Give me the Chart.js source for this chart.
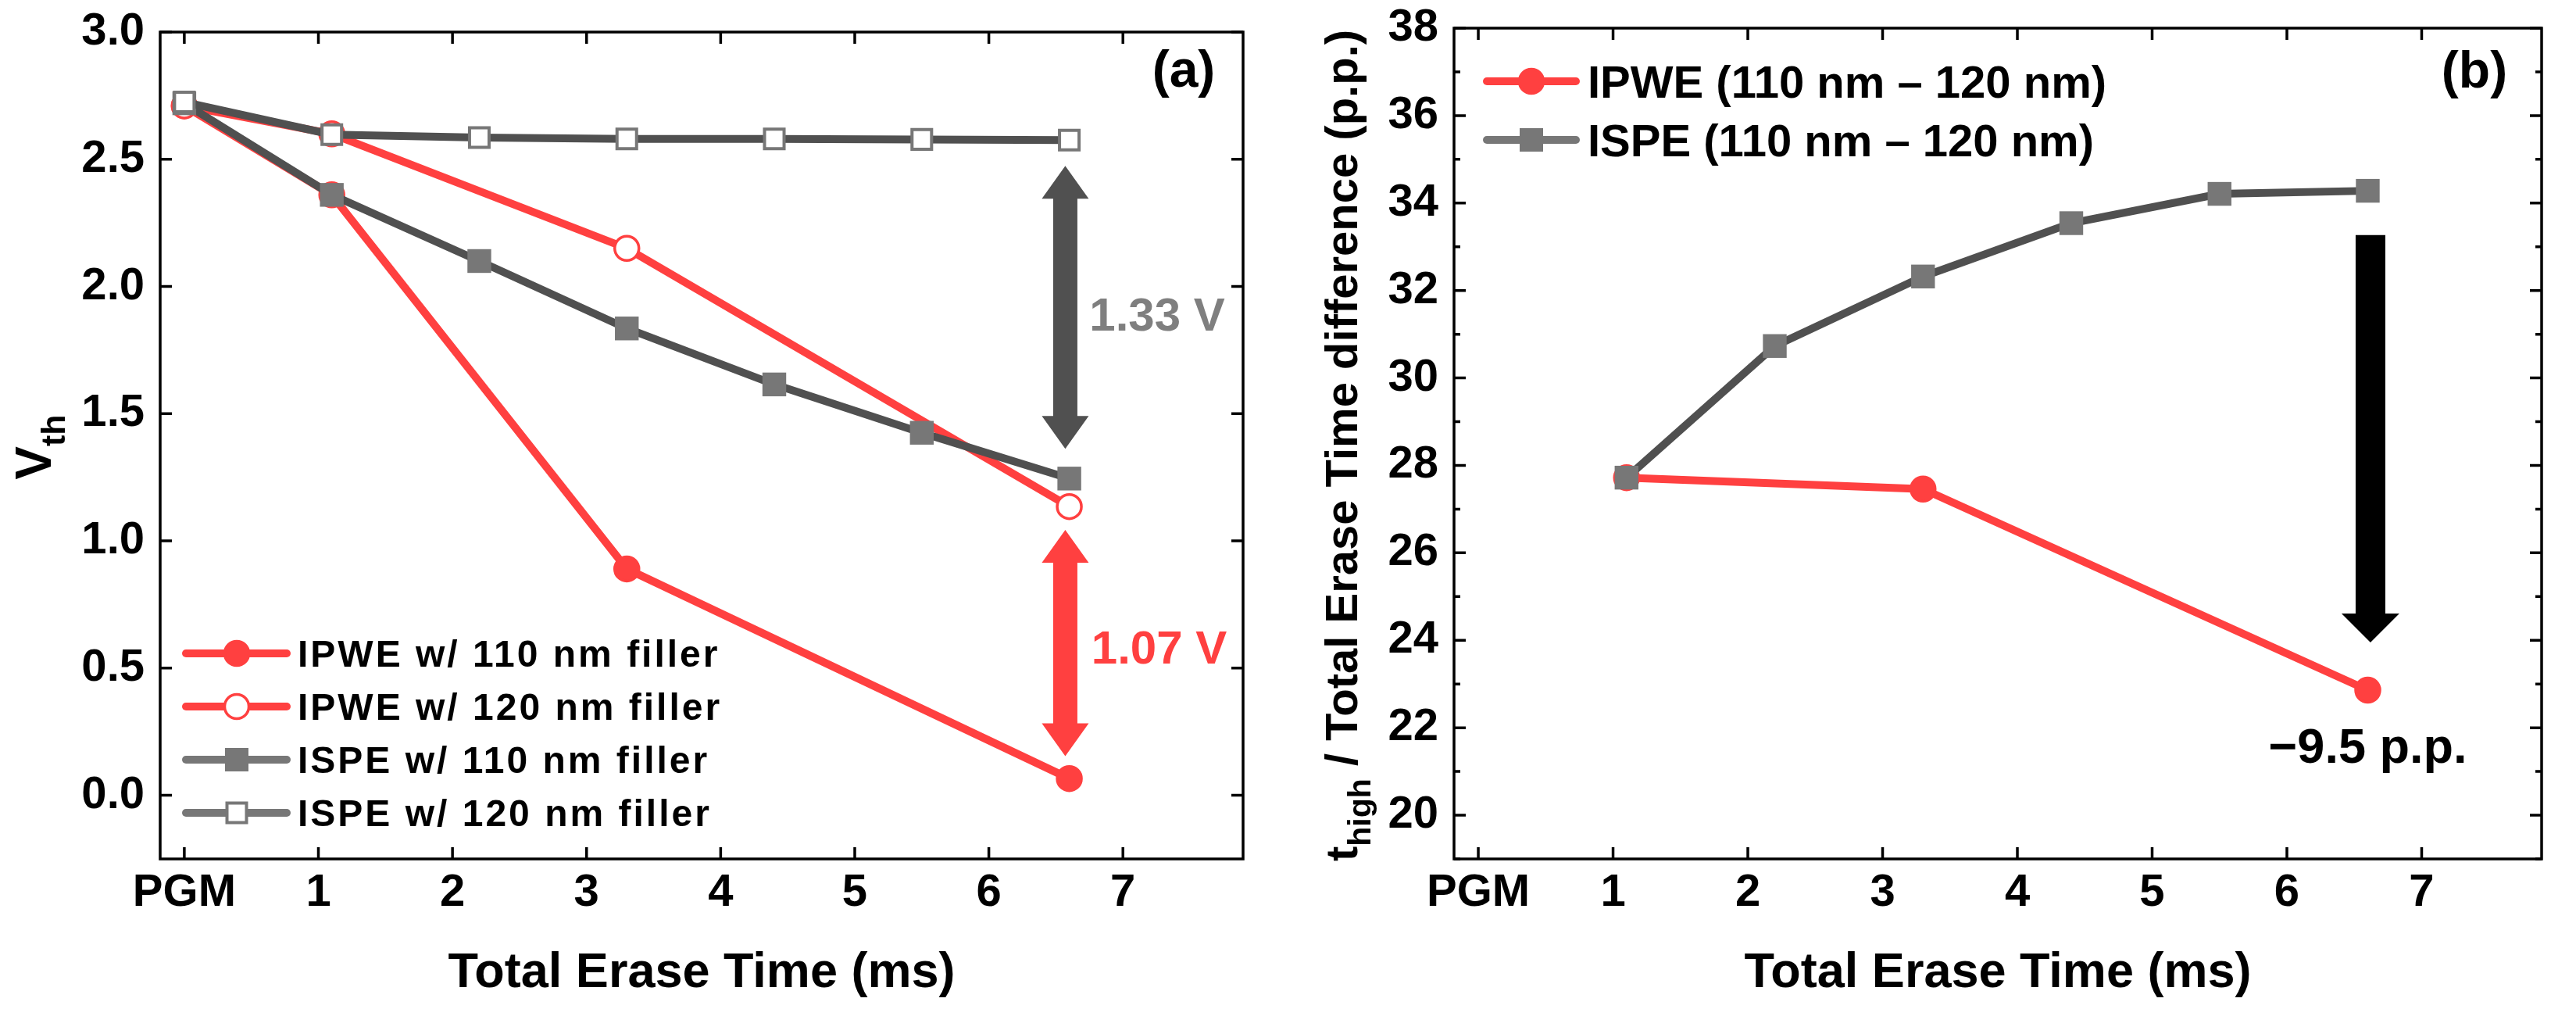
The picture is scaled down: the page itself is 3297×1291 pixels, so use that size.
<!DOCTYPE html>
<html><head><meta charset="utf-8">
<script src="https://cdn.jsdelivr.net/npm/chart.js@4/dist/chart.umd.min.js"></script>
<style>
html,body{margin:0;padding:0;background:#fff;width:3297px;height:1291px;overflow:hidden}
#wa{position:absolute;left:0;top:0;width:1650px;height:1291px}
#wb{position:absolute;left:1650px;top:0;width:1647px;height:1291px}
canvas{display:block}
</style></head><body>
<div id="wa"><canvas id="ca" width="1650" height="1291"></canvas></div>
<div id="wb"><canvas id="cb" width="1647" height="1291"></canvas></div>
<script>
// ---------- data ----------
const xTickValues = [0, 1, 2, 3, 4, 5, 6, 7];
const xTickLabels = ['PGM', '1', '2', '3', '4', '5', '6', '7'];
const yTicksA = [0, 0.5, 1.0, 1.5, 2.0, 2.5, 3.0];
const yTicksB = [20, 22, 24, 26, 28, 30, 32, 34, 36, 38];
const yMinorB = [19, 21, 23, 25, 27, 29, 31, 33, 35, 37];

const timeIPWE = [0, 1.1, 3.3, 6.6];
const timeISPE = [0, 1.1, 2.2, 3.3, 4.4, 5.5, 6.6];
const vthIPWE110 = [2.71, 2.36, 0.89, 0.066];
const vthIPWE120 = [2.71, 2.60, 2.15, 1.135];
const vthISPE110 = [2.72, 2.36, 2.10, 1.835, 1.615, 1.425, 1.245];
const vthISPE120 = [2.725, 2.597, 2.585, 2.58, 2.58, 2.578, 2.575];
const seriesNamesA = ['IPWE w/ 110 nm filler', 'IPWE w/ 120 nm filler', 'ISPE w/ 110 nm filler', 'ISPE w/ 120 nm filler'];

const timeIPWEb = [1.1, 3.3, 6.6];
const timeISPEb = [1.1, 2.2, 3.3, 4.4, 5.5, 6.6];
const diffIPWE = [27.72, 27.46, 22.86];
const diffISPE = [27.72, 30.73, 32.32, 33.54, 34.21, 34.28];
const seriesNamesB = ['IPWE (110 nm \u2013 120 nm)', 'ISPE (110 nm \u2013 120 nm)'];

// ---------- styles ----------
const RED = '#ff4040', DARK = '#505050', MID = '#777777', LGRAY = '#7f7f7f';
const FF = '"Liberation Sans", Arial, Helvetica, sans-serif';
const bold = s => 'bold ' + s + 'px ' + FF;
const pts = (xs, ys) => xs.map((x, i) => ({x: x, y: ys[i]}));

function drawMarker(ctx, type, x, y) {
  ctx.save();
  if (type === 'circleFilled' || type === 'circleOpen') {
    ctx.beginPath(); ctx.arc(x, y, 15.5, 0, Math.PI * 2);
    ctx.fillStyle = type === 'circleFilled' ? RED : '#fff'; ctx.fill();
    ctx.lineWidth = 3.5; ctx.strokeStyle = RED; ctx.stroke();
  } else if (type === 'squareFilled') {
    ctx.fillStyle = MID; ctx.fillRect(x - 15, y - 15, 30, 30);
  } else {
    ctx.fillStyle = '#fff'; ctx.fillRect(x - 12.5, y - 12.5, 25, 25);
    ctx.lineWidth = 4; ctx.strokeStyle = MID; ctx.strokeRect(x - 12.5, y - 12.5, 25, 25);
  }
  ctx.restore();
}

function drawFrame(chart, yMajor, yMinor) {
  const ctx = chart.ctx, a = chart.chartArea, xs = chart.scales.x, ys = chart.scales.y;
  ctx.save();
  ctx.strokeStyle = '#000'; ctx.lineWidth = 3.5; ctx.lineCap = 'butt';
  ctx.strokeRect(a.left, a.top, a.right - a.left, a.bottom - a.top);
  ctx.beginPath();
  for (const v of xTickValues) {
    const p = xs.getPixelForValue(v);
    ctx.moveTo(p, a.bottom); ctx.lineTo(p, a.bottom - 15);
    ctx.moveTo(p, a.top); ctx.lineTo(p, a.top + 15);
  }
  for (const v of yMajor) {
    const p = ys.getPixelForValue(v);
    ctx.moveTo(a.left, p); ctx.lineTo(a.left + 15, p);
    ctx.moveTo(a.right, p); ctx.lineTo(a.right - 15, p);
  }
  for (const v of yMinor) {
    const p = ys.getPixelForValue(v);
    ctx.moveTo(a.left, p); ctx.lineTo(a.left + 8, p);
    ctx.moveTo(a.right, p); ctx.lineTo(a.right - 8, p);
  }
  ctx.stroke();
  ctx.restore();
}

function arrowPath(ctx, xc, yTop, yBot, shaftW, headW, headL, topHead, botHead) {
  ctx.beginPath();
  const s = shaftW / 2, h = headW / 2;
  if (topHead) {
    ctx.moveTo(xc, yTop); ctx.lineTo(xc + h, yTop + headL); ctx.lineTo(xc + s, yTop + headL);
  } else {
    ctx.moveTo(xc + s, yTop);
  }
  if (botHead) {
    ctx.lineTo(xc + s, yBot - headL); ctx.lineTo(xc + h, yBot - headL); ctx.lineTo(xc, yBot);
    ctx.lineTo(xc - h, yBot - headL); ctx.lineTo(xc - s, yBot - headL);
  } else {
    ctx.lineTo(xc + s, yBot); ctx.lineTo(xc - s, yBot);
  }
  if (topHead) {
    ctx.lineTo(xc - s, yTop + headL); ctx.lineTo(xc - h, yTop + headL);
  } else {
    ctx.lineTo(xc - s, yTop);
  }
  ctx.closePath();
  ctx.fill();
}

function xTitle(chart) {
  const ctx = chart.ctx, a = chart.chartArea;
  ctx.save();
  ctx.font = bold(63); ctx.fillStyle = '#000'; ctx.textAlign = 'center'; ctx.textBaseline = 'alphabetic';
  ctx.fillText('Total Erase Time (ms)', (a.left + a.right) / 2, 1263);
  ctx.restore();
}

function drawRotParts(ctx, x, yc, parts) {
  ctx.save();
  ctx.translate(x, yc); ctx.rotate(-Math.PI / 2);
  ctx.fillStyle = '#000'; ctx.textAlign = 'left'; ctx.textBaseline = 'alphabetic';
  let total = 0;
  for (const p of parts) { ctx.font = bold(p.size); p.w = ctx.measureText(p.t).width; total += p.w; }
  let sx = -total / 2;
  for (const p of parts) { ctx.font = bold(p.size); ctx.fillText(p.t, sx, p.dy); sx += p.w; }
  ctx.restore();
}

// annotation settings (not data)
const annA = {
  arrowX: 6.57, grayTop: 2.474, grayBot: 1.362, redTop: 1.043, redBot: 0.154,
  lab133: {x: 7.255, y: 1.828}, lab107: {x: 7.27, y: 0.517}
};
const annB = { arrowX: 6.62, top: 33.27, tip: 23.95, lab: {x: 6.6, y: 21.2} };

const pluginA = {
  id: 'decorA',
  afterDraw(chart) {
    const ctx = chart.ctx, xs = chart.scales.x, ys = chart.scales.y;
    drawFrame(chart, yTicksA, []);
    xTitle(chart);
    drawRotParts(ctx, 65, 572, [{t: 'V', size: 64, dy: 0}, {t: 'th', size: 43, dy: 18}]);
    // legend
    const rows = [836, 904, 972, 1040];
    const lc = [RED, RED, MID, MID];
    const mk = ['circleFilled', 'circleOpen', 'squareFilled', 'squareOpen'];
    ctx.save();
    for (let i = 0; i < 4; i++) {
      ctx.strokeStyle = lc[i]; ctx.lineWidth = 10; ctx.lineCap = 'round';
      ctx.beginPath(); ctx.moveTo(238, rows[i]); ctx.lineTo(367, rows[i]); ctx.stroke();
      drawMarker(ctx, mk[i], 303, rows[i]);
      ctx.font = bold(48); ctx.fillStyle = '#000'; ctx.textAlign = 'left'; ctx.textBaseline = 'alphabetic';
      if ('letterSpacing' in ctx) ctx.letterSpacing = '3px';
      ctx.fillText(seriesNamesA[i], 381, rows[i] + 17);
      if ('letterSpacing' in ctx) ctx.letterSpacing = '0px';
    }
    ctx.restore();
    // (a)
    ctx.save();
    ctx.font = bold(66); ctx.fillStyle = '#000'; ctx.textAlign = 'center'; ctx.textBaseline = 'middle';
    ctx.fillText('(a)', 1515, 93);
    ctx.restore();
    // arrows
    ctx.save();
    const ax = xs.getPixelForValue(annA.arrowX);
    ctx.fillStyle = DARK;
    arrowPath(ctx, ax, ys.getPixelForValue(annA.grayTop), ys.getPixelForValue(annA.grayBot), 31, 60, 42, true, true);
    ctx.fillStyle = RED;
    arrowPath(ctx, ax, ys.getPixelForValue(annA.redTop), ys.getPixelForValue(annA.redBot), 31, 60, 42, true, true);
    ctx.font = bold(60); ctx.textAlign = 'center'; ctx.textBaseline = 'alphabetic';
    ctx.fillStyle = LGRAY;
    ctx.fillText('1.33 V', xs.getPixelForValue(annA.lab133.x), ys.getPixelForValue(annA.lab133.y));
    ctx.fillStyle = RED;
    ctx.fillText('1.07 V', xs.getPixelForValue(annA.lab107.x), ys.getPixelForValue(annA.lab107.y));
    ctx.restore();
  }
};

const pluginB = {
  id: 'decorB',
  afterDraw(chart) {
    const ctx = chart.ctx, xs = chart.scales.x, ys = chart.scales.y;
    drawFrame(chart, yTicksB, yMinorB);
    xTitle(chart);
    drawRotParts(ctx, 87, 570, [
      {t: 't', size: 58, dy: 0}, {t: 'high', size: 41, dy: 17},
      {t: ' / Total Erase Time difference (p.p.)', size: 58, dy: 0}
    ]);
    const rows = [104, 179];
    const lc = [RED, MID];
    const mk = ['circleFilled', 'squareFilled'];
    ctx.save();
    for (let i = 0; i < 2; i++) {
      ctx.strokeStyle = lc[i]; ctx.lineWidth = 10; ctx.lineCap = 'round';
      ctx.beginPath(); ctx.moveTo(253, rows[i]); ctx.lineTo(367, rows[i]); ctx.stroke();
      drawMarker(ctx, mk[i], 310, rows[i]);
      ctx.font = bold(58); ctx.fillStyle = '#000'; ctx.textAlign = 'left'; ctx.textBaseline = 'alphabetic';
      ctx.fillText(seriesNamesB[i], 382, rows[i] + 21);
    }
    ctx.font = bold(66); ctx.textAlign = 'center'; ctx.textBaseline = 'middle';
    ctx.fillText('(b)', 1517, 94);
    // arrow
    ctx.fillStyle = '#000';
    arrowPath(ctx, xs.getPixelForValue(annB.arrowX), ys.getPixelForValue(annB.top), ys.getPixelForValue(annB.tip), 38, 74, 37, false, true);
    ctx.font = bold(63); ctx.textAlign = 'center'; ctx.textBaseline = 'alphabetic';
    ctx.fillText('\u22129.5 p.p.', xs.getPixelForValue(annB.lab.x), ys.getPixelForValue(annB.lab.y));
    ctx.restore();
  }
};

function xScale(min, max) {
  return {
    type: 'linear', min: min, max: max,
    afterBuildTicks: s => { s.ticks = xTickValues.map(v => ({value: v})); },
    afterFit: s => { s.height = 192; s.paddingLeft = 0; s.paddingRight = 0; s.paddingTop = 0; s.paddingBottom = 0; },
    grid: {display: false, drawTicks: false}, border: {display: false},
    ticks: {
      autoSkip: false, maxRotation: 0, minRotation: 0, padding: 9, color: '#000',
      font: {family: FF, size: 58, weight: 'bold'},
      callback: v => xTickLabels[xTickValues.indexOf(v)]
    }
  };
}
function yScale(min, max, ticks, width, fmt) {
  return {
    type: 'linear', min: min, max: max,
    afterBuildTicks: s => { s.ticks = ticks.map(v => ({value: v})); },
    afterFit: s => { s.width = width; s.paddingTop = 0; s.paddingBottom = 0; s.paddingLeft = 0; s.paddingRight = 0; },
    grid: {display: false, drawTicks: false}, border: {display: false},
    ticks: {
      autoSkip: false, padding: 20, color: '#000',
      font: {family: FF, size: 58, weight: 'bold'},
      callback: fmt
    }
  };
}

const common = {
  responsive: false, animation: false, devicePixelRatio: 1, events: [],
  plugins: {legend: {display: false}, tooltip: {enabled: false}}
};

function ds(label, data, lineColor, style, order) {
  const d = {label: label, data: data, showLine: true, borderColor: lineColor, borderWidth: 10,
    tension: 0, order: order, clip: false};
  if (style === 'squareOpen') Object.assign(d, {pointStyle: 'rect', pointRadius: 17.7, pointBorderWidth: 4, pointBackgroundColor: '#fff', pointBorderColor: MID});
  if (style === 'squareFilled') Object.assign(d, {pointStyle: 'rect', pointRadius: 21.5, pointBorderWidth: 0, pointBackgroundColor: MID, pointBorderColor: MID});
  if (style === 'circleOpen') Object.assign(d, {pointStyle: 'circle', pointRadius: 15.5, pointBorderWidth: 3.5, pointBackgroundColor: '#fff', pointBorderColor: RED});
  if (style === 'circleFilled') Object.assign(d, {pointStyle: 'circle', pointRadius: 15.5, pointBorderWidth: 3.5, pointBackgroundColor: RED, pointBorderColor: RED});
  return d;
}

new Chart(document.getElementById('ca'), {
  type: 'scatter',
  data: {datasets: [
    ds(seriesNamesA[3], pts(timeISPE, vthISPE120), DARK, 'squareOpen', 0),
    ds(seriesNamesA[2], pts(timeISPE, vthISPE110), DARK, 'squareFilled', 1),
    ds(seriesNamesA[1], pts(timeIPWE, vthIPWE120), RED, 'circleOpen', 2),
    ds(seriesNamesA[0], pts(timeIPWE, vthIPWE110), RED, 'circleFilled', 3)
  ]},
  options: Object.assign({}, common, {
    layout: {padding: {top: 41, right: 59, left: 0, bottom: 0}},
    scales: {
      x: xScale(-0.18, 7.896),
      y: yScale(-0.25, 3.0, yTicksA, 205, v => v.toFixed(1))
    }
  }),
  plugins: [pluginA]
});

new Chart(document.getElementById('cb'), {
  type: 'scatter',
  data: {datasets: [
    ds(seriesNamesB[1], pts(timeISPEb, diffISPE), DARK, 'squareFilled', 0),
    ds(seriesNamesB[0], pts(timeIPWEb, diffIPWE), RED, 'circleFilled', 1)
  ]},
  options: Object.assign({}, common, {
    layout: {padding: {top: 36, right: 44, left: 0, bottom: 0}},
    scales: {
      x: xScale(-0.18, 7.89),
      y: yScale(19, 38, yTicksB, 211, v => String(v))
    }
  }),
  plugins: [pluginB]
});
</script>
</body></html>
